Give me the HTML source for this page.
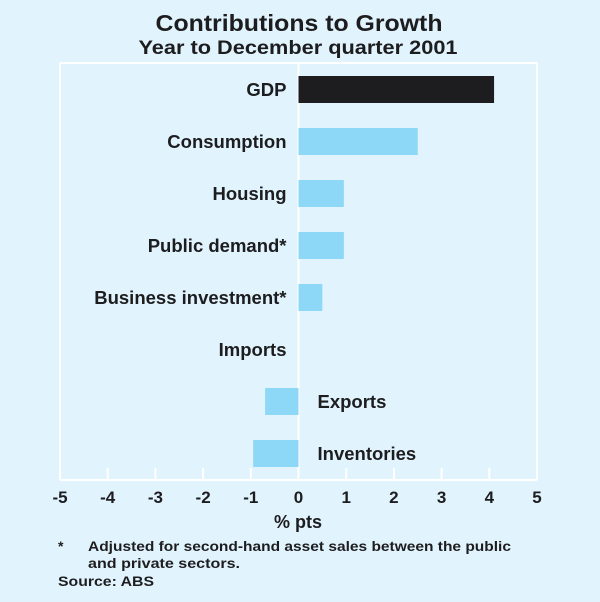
<!DOCTYPE html>
<html><head><meta charset="utf-8"><style>
body{margin:0;background:#e1f3fd;}
svg{display:block;font-family:"Liberation Sans",sans-serif;font-weight:bold;fill:#1d1d1f;}
</style></head><body>
<svg width="600" height="602" viewBox="0 0 600 602">
<rect width="600" height="602" fill="#e1f3fd"/>
<text x="299" y="31" text-anchor="middle" font-size="23" textLength="287" lengthAdjust="spacingAndGlyphs">Contributions to Growth</text>
<text x="298" y="54" text-anchor="middle" font-size="19" textLength="319" lengthAdjust="spacingAndGlyphs">Year to December quarter 2001</text>
<g id="plot"></g>
<text x="298" y="528" text-anchor="middle" font-size="18">% pts</text>
<text x="58" y="551" font-size="14">*</text>
<text x="88" y="551" font-size="14" textLength="423" lengthAdjust="spacingAndGlyphs">Adjusted for second-hand asset sales between the public</text>
<text x="88" y="568" font-size="14" textLength="152" lengthAdjust="spacingAndGlyphs">and private sectors.</text>
<text x="58" y="586" font-size="14" textLength="96" lengthAdjust="spacingAndGlyphs">Source: ABS</text>
</svg>
<script>
const categories=["GDP","Consumption","Housing","Public demand*","Business investment*","Imports","Exports","Inventories"];
const values=[4.1,2.5,0.95,0.95,0.5,0,-0.7,-0.95];
const ticks=[-5,-4,-3,-2,-1,0,1,2,3,4,5];
const NS="http://www.w3.org/2000/svg";
const g=document.getElementById('plot');
const L=60,R=537,T=63,B=480;
const x=v=>L+(v+5)/10*(R-L);
const yc=i=>89.5+i*52;
function mk(t,a){const e=document.createElementNS(NS,t);for(const k in a)e.setAttribute(k,a[k]);g.appendChild(e);return e;}
let e;
e=mk('line',{x1:L,x2:R,y1:T,y2:T,stroke:'#fff','stroke-width':2});


e=mk('line',{x1:L,x2:L,y1:T,y2:B,stroke:'#fff','stroke-width':2});


e=mk('line',{x1:R,x2:R,y1:T,y2:B,stroke:'#fff','stroke-width':2});


e=mk('line',{x1:x(0),x2:x(0),y1:T,y2:B,stroke:'#fff','stroke-width':2});


e=mk('line',{x1:L,x2:R,y1:B,y2:B,stroke:'#fff','stroke-width':2});


ticks.forEach(t=>{
 e=mk('line',{x1:x(t),x2:x(t),y1:B-12,y2:B,stroke:'#fff','stroke-width':2});
 
 
 e=mk('text',{x:x(t),y:503,'text-anchor':'middle','font-size':17});
 e.textContent=t;
 
 
});
categories.forEach((c,i)=>{
 const v=values[i];
 if(v!==0){
  e=mk('rect',{x:Math.min(x(0),x(v)),y:yc(i)-13.5,width:Math.abs(x(v)-x(0)),height:27,fill:i===0?'#1d1d20':'#8dd7f7'});
  
  
 }
 const neg=v<0;
 e=mk('text',{x:neg?x(0)+19:x(0)-12,y:yc(i)+6.5,'text-anchor':neg?'start':'end','font-size':18.5});
 e.textContent=c;
 
 
});
</script>
</body></html>
